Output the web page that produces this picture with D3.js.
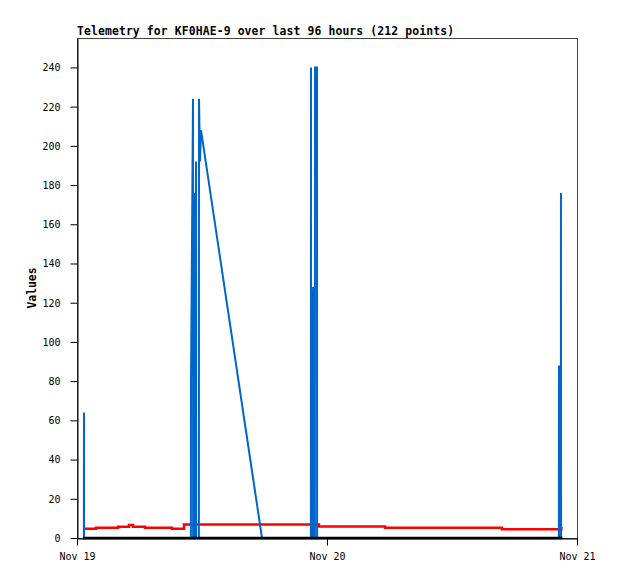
<!DOCTYPE html>
<html>
<head>
<meta charset="UTF-8">
<title>Telemetry KF0HAE-9</title>
<script src="https://d3js.org/d3.v7.min.js"></script>
<style>
  body { margin: 0; background: #fff; }
  svg { display: block; }
  .tick text { font-family: "DejaVu Sans Mono", monospace; font-size: 10px; fill: #000; }
  .tick line, .domain { stroke: #000; }
</style>
</head>
<body>
<svg width="618" height="579"></svg>
<script>
// chart data (time in hours after Nov 19 00:00)
const title = "Telemetry for KF0HAE-9 over last 96 hours (212 points)";
const yLabel = "Values";
const yTicks = [0, 20, 40, 60, 80, 100, 120, 140, 160, 180, 200, 220, 240];
const xTickDays = [0, 1, 2];

const blueHours  = [0.66, 0.672, 0.68,
  10.934, 10.944, 11.136, 11.146, 11.28, 11.29, 11.424, 11.434, 11.702, 11.712, 11.808, 11.904, 17.76,
  22.454, 22.464, 22.474, 22.646, 22.656, 22.666, 22.675, 22.838, 22.848, 23.04, 23.05,
  46.26, 46.27, 46.28, 46.45, 46.46, 46.47];
const blueValues = [0, 64, 0,
  0, 80, 224, 0, 176, 0, 192, 0, 0, 224, 192, 208, 0,
  0, 240, 0, 0, 120, 128, 0, 0, 240, 240, 0,
  0, 88, 0, 0, 176, 0];

const redHours  = [0.77, 1.82, 3.94, 4.99, 5.38, 6.53, 9.12, 10.27, 23.23, 29.57, 40.8, 46.5];
const redValues = [4.7, 5.2, 5.8, 6.6, 5.8, 5.2, 4.7, 6.9, 5.9, 5.2, 4.4, 5.6];

const blackHours  = [0.58, 46.6];
const blackValues = [0, 0];

const start = Date.UTC(2024, 10, 19);
const hr = 3600 * 1000;
const toDate = h => new Date(start + h * hr);

const svg = d3.select("svg");
const plotL = 77, plotR = 577, plotT = 38, plotB = 538;

const x = d3.scaleUtc().domain([toDate(0), toDate(48)]).range([plotL, plotR]);
const y = d3.scaleLinear().domain([0, 255]).range([plotB, plotT]);

// frame
svg.append("rect")
  .attr("x", plotL + 0.5).attr("y", plotT + 0.5)
  .attr("width", plotR - plotL).attr("height", plotB - plotT)
  .attr("fill", "none").attr("stroke", "#444");

// axes
svg.append("g")
  .attr("transform", `translate(${plotL + 0.5},0)`)
  .call(d3.axisLeft(y).tickValues(yTicks).tickSize(7).tickPadding(10).tickSizeOuter(0))
  .call(g => g.selectAll("text").attr("dy", "0.34em"));

svg.append("g")
  .attr("transform", `translate(0,${plotB + 0.5})`)
  .call(d3.axisBottom(x).tickValues(xTickDays.map(d => toDate(d * 24)))
    .tickFormat(d3.utcFormat("%b %d")).tickSize(7).tickPadding(7).tickSizeOuter(0));

// series
const line = d3.line().x(d => x(toDate(d[0]))).y(d => y(d[1]));

svg.append("path")
  .attr("d", line.curve(d3.curveStepAfter)(d3.zip(redHours, redValues)))
  .attr("fill", "none").attr("stroke", "#ff0000").attr("stroke-width", 2.5);

svg.append("path")
  .attr("d", line.curve(d3.curveLinear)(d3.zip(blueHours, blueValues)))
  .attr("fill", "none").attr("stroke", "#0066cc").attr("stroke-width", 2);

svg.append("path")
  .attr("d", line.curve(d3.curveLinear)(d3.zip(blackHours, blackValues)))
  .attr("fill", "none").attr("stroke", "#000").attr("stroke-width", 2.5);

// texts
svg.append("text")
  .attr("x", plotL).attr("y", 35)
  .attr("font-family", "DejaVu Sans Mono").attr("font-weight", "bold").attr("font-size", "11.4px")
  .attr("textLength", 377).attr("lengthAdjust", "spacing")
  .text(title);

svg.append("text")
  .attr("transform", `translate(36,${(plotT + plotB) / 2}) rotate(-90)`)
  .attr("text-anchor", "middle")
  .attr("font-family", "DejaVu Sans Mono").attr("font-weight", "bold").attr("font-size", "11.4px")
  .text(yLabel);
</script>
</body>
</html>
